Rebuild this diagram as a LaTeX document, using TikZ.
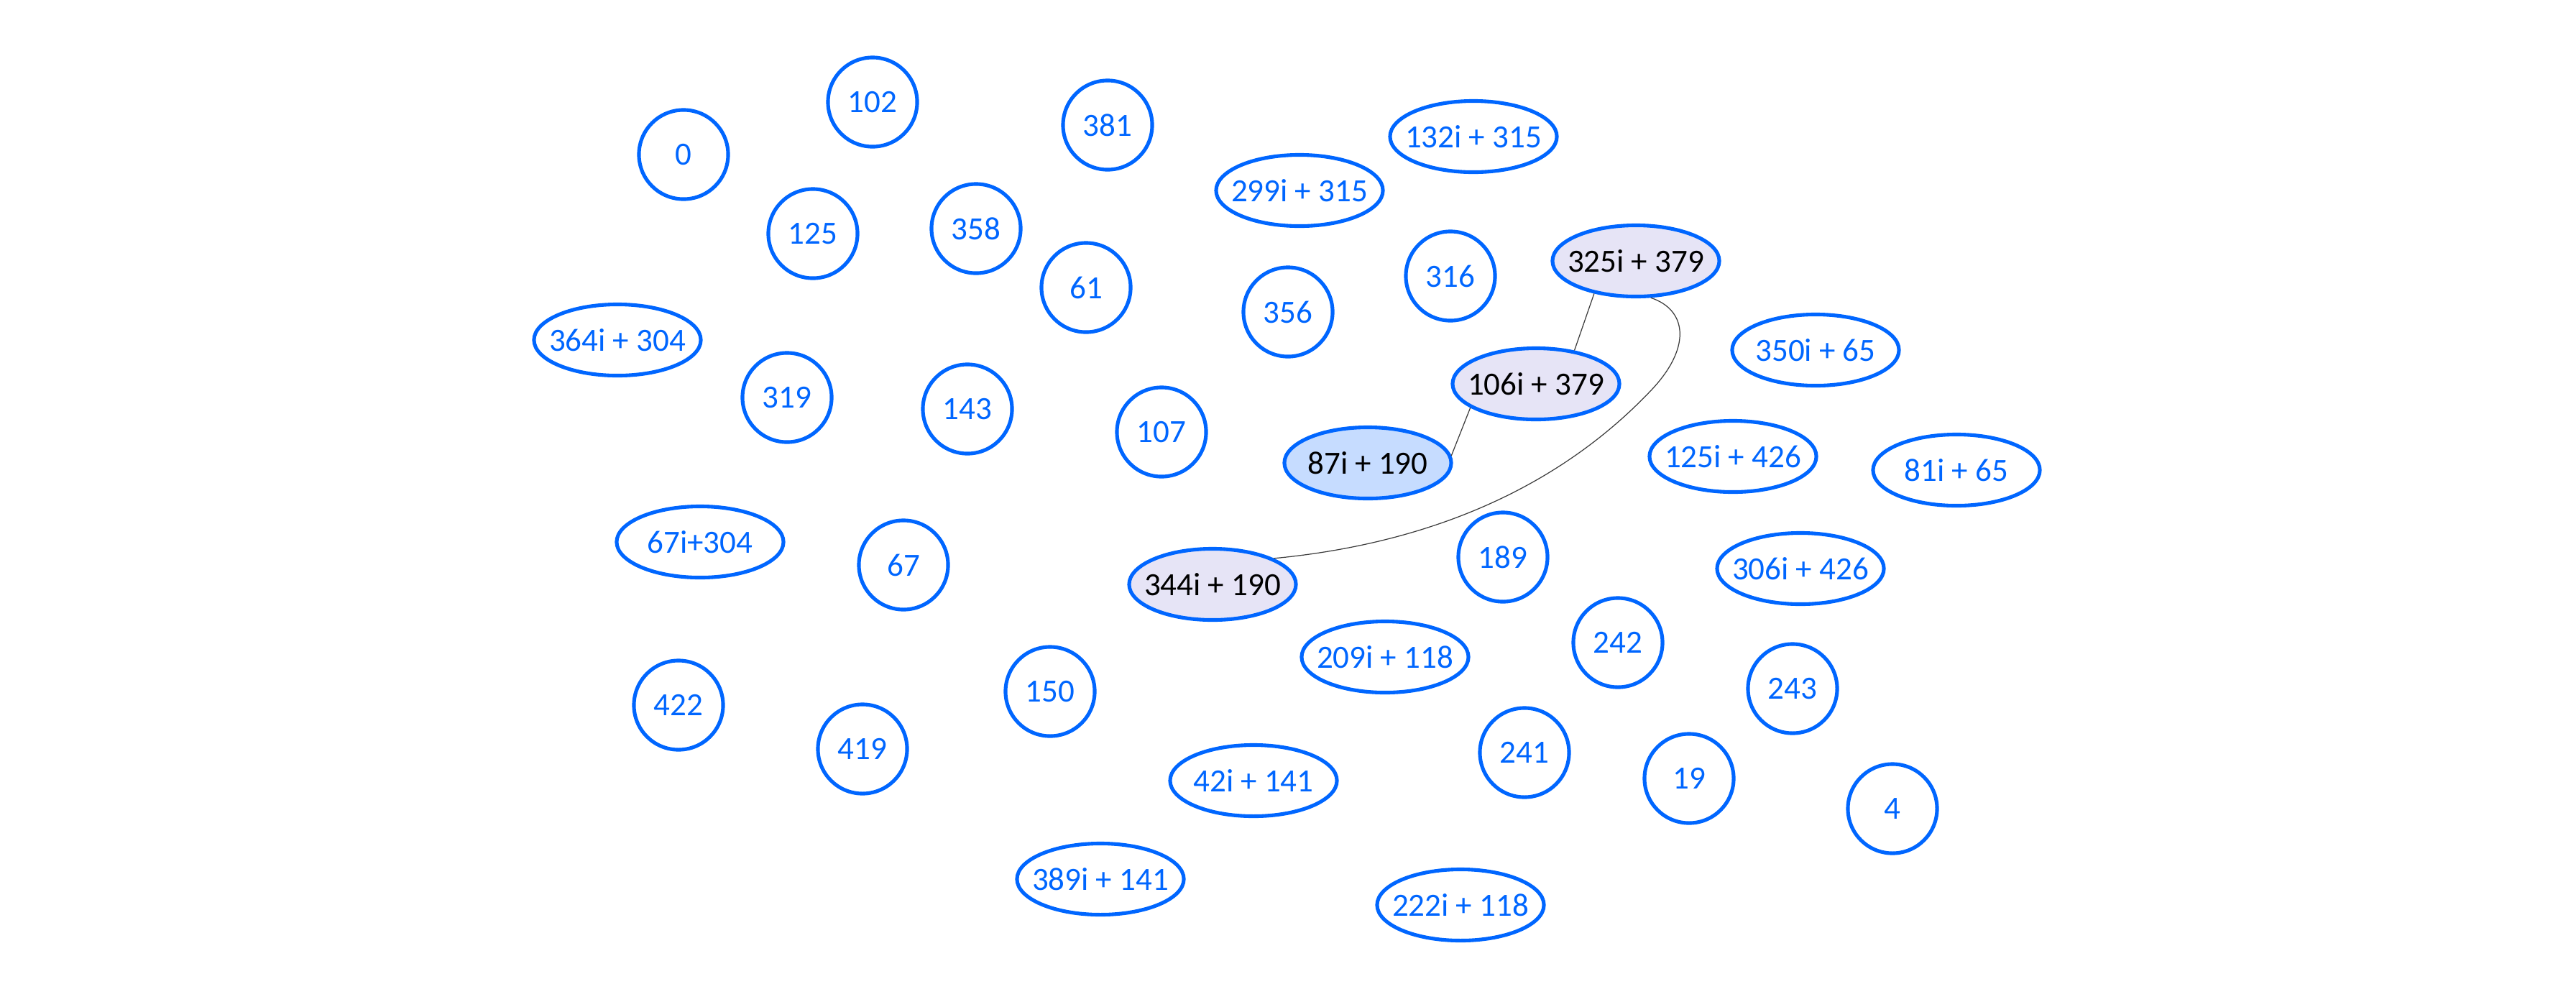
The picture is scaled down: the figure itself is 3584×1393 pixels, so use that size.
\documentclass[tikz,border=0pt]{standalone}
\usepackage{fontspec}
\setmainfont{Carlito}
\usetikzlibrary{shapes.geometric}
\definecolor{nblue}{RGB}{0,102,255}
\definecolor{lav}{RGB}{230,228,246}
\definecolor{lblue}{RGB}{198,220,255}
\definecolor{edgec}{RGB}{60,60,60}
\newcommand{\zt}[1]{\makebox[0pt]{#1}}
\tikzset{
  base/.style={ellipse,draw=nblue,line width=1.45pt,inner sep=0pt,text=nblue,
    font=\fontsize{12.8pt}{15pt}\selectfont},
  circ/.style={base,minimum width=1.24cm,minimum height=1.24cm},
  oval/.style={base,minimum width=2.32cm,minimum height=0.99cm},
  hl/.style={oval,fill=lav,text=black},
  hlb/.style={oval,fill=lblue,text=black},
  conn/.style={draw=edgec,line width=0.35pt}
}
\begin{document}
\begin{tikzpicture}[x=0.01cm,y=-0.01cm]
\useasboundingbox (0,0) rectangle (3584,1393);
\node[circ] (n0) at (951,215) {\zt{0}};
\node[circ] (n102) at (1214,142) {\zt{102}};
\node[circ] (n381) at (1541,174) {\zt{381}};
\node[oval] (n132i) at (2050,190) {\zt{132i + 315}};
\node[oval] (n299i) at (1808,265) {\zt{299i + 315}};
\node[circ] (n125) at (1131,325) {\zt{125}};
\node[circ] (n358) at (1358,318) {\zt{358}};
\node[circ] (n61) at (1511,400) {\zt{61}};
\node[circ] (n316) at (2018,384) {\zt{316}};
\node[hl] (n325i) at (2276,363) {\zt{325i + 379}};
\node[circ] (n356) at (1792,434) {\zt{356}};
\node[oval] (n364i) at (859,473) {\zt{364i + 304}};
\node[oval] (n350i) at (2526,487) {\zt{350i + 65}};
\node[circ] (n319) at (1095,553) {\zt{319}};
\node[circ] (n143) at (1346,569) {\zt{143}};
\node[hl] (n106i) at (2137,534) {\zt{106i + 379}};
\node[circ] (n107) at (1616,601) {\zt{107}};
\node[hlb] (n87i) at (1903,644) {\zt{87i + 190}};
\node[oval] (n125i) at (2411,635) {\zt{125i + 426}};
\node[oval] (n81i) at (2722,654) {\zt{81i + 65}};
\node[oval] (n67i) at (974,754) {\zt{67i+304}};
\node[circ] (n67) at (1257,786) {\zt{67}};
\node[hl] (n344i) at (1687,813) {\zt{344i + 190}};
\node[circ] (n189) at (2091,775) {\zt{189}};
\node[oval] (n306i) at (2505,791) {\zt{306i + 426}};
\node[circ] (n242) at (2251,894) {\zt{242}};
\node[oval] (n209i) at (1927,914) {\zt{209i + 118}};
\node[circ] (n243) at (2494,958) {\zt{243}};
\node[circ] (n422) at (944,981) {\zt{422}};
\node[circ] (n150) at (1461,962) {\zt{150}};
\node[circ] (n419) at (1200,1042) {\zt{419}};
\node[circ] (n241) at (2121,1047) {\zt{241}};
\node[circ] (n19) at (2350,1083) {\zt{19}};
\node[oval] (n42i) at (1744,1086) {\zt{42i + 141}};
\node[circ] (n4) at (2633,1125) {\zt{4}};
\node[oval] (n389i) at (1531,1223) {\zt{389i + 141}};
\node[oval] (n222i) at (2032,1259) {\zt{222i + 118}};
\draw[conn] (n325i.218) -- (n106i.41);
\draw[conn] (n106i.200) -- (n87i.5);
\draw[conn] (n325i.292) .. controls (2345,430) and (2355,480) .. (2300,540)
  .. controls (2150,700) and (1950,760) .. (n344i.23);
\end{tikzpicture}
\end{document}
